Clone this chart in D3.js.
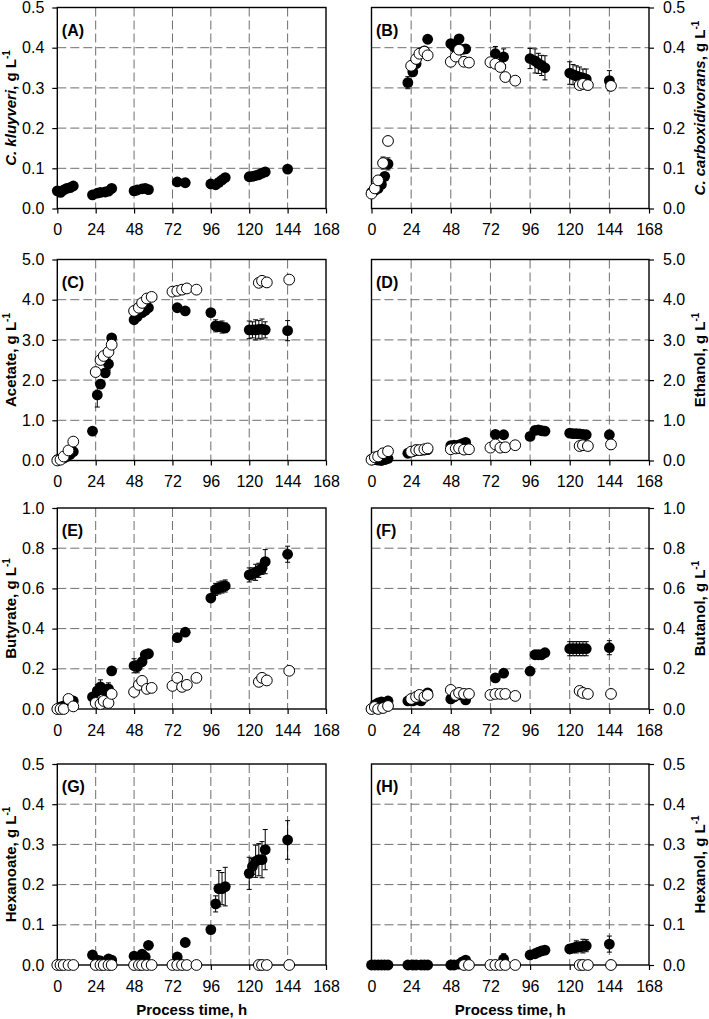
<!DOCTYPE html>
<html>
<head>
<meta charset="utf-8">
<script src="https://cdn.jsdelivr.net/npm/d3@7"></script>
<style>
  body { margin: 0; background: #fff; }
  text { font-family: "Liberation Sans", Arial, sans-serif; fill: #000; }
</style>
</head>
<body>
<svg id="chart" width="709" height="1019"></svg>
<script>
// sampling times, h
const timeFilled = [0, 2, 4, 6, 8, 10, 22, 25, 27, 30, 32, 34, 48, 50, 53, 55, 57, 75, 80,
  96, 99, 101, 103, 105, 120, 122, 124, 126, 128, 130, 144];
const timeOpen = [0, 2, 4, 7, 10, 24, 27, 29, 32, 34, 48, 51, 53, 56, 59, 72, 75, 78, 81, 87,
  126, 128, 131, 145];
const xTicks = [0, 24, 48, 72, 96, 120, 144, 168];

// (A) C. kluyveri
const kluyveriFilled = [0.044, 0.040, 0.046, 0.050, 0.052, 0.056, 0.034, 0.038, 0.040, 0.041, 0.043, 0.050,
  0.044, 0.046, 0.049, 0.050, 0.047, 0.066, 0.064, 0.061, 0.059, 0.065, 0.071, 0.077,
  0.079, 0.080, 0.082, 0.084, 0.088, 0.091, 0.098];

// (B) C. carboxidivorans
const carboxFilled = [0.040, 0.045, 0.050, 0.060, 0.080, 0.111, 0.313, 0.340, 0.360, 0.388, 0.392, 0.421,
  0.410, 0.402, 0.422, 0.396, 0.397, 0.385, 0.377, 0.373, 0.367, 0.361, 0.356, 0.350,
  0.337, 0.333, 0.330, 0.327, 0.325, 0.322, 0.318];
const carboxFilledErr = [0, 0, 0, 0, 0, 0.015, 0.015, 0.008, 0.005, 0.005, 0.005, 0.005,
  0.008, 0.008, 0.005, 0.008, 0.005, 0.018, 0.02, 0.025, 0.03, 0.025, 0.025, 0.03,
  0.028, 0.025, 0.025, 0.025, 0.022, 0.025, 0.025];
const carboxOpen = [0.037, 0.050, 0.070, 0.113, 0.168, 0.355, 0.372, 0.385, 0.390, 0.381,
  0.365, 0.378, 0.395, 0.365, 0.363, 0.364, 0.360, 0.352, 0.327, 0.318, 0.307, 0.310, 0.307, 0.305];
const carboxOpenErr = [0, 0, 0, 0.015, 0, 0, 0, 0, 0, 0, 0, 0, 0, 0, 0, 0, 0, 0, 0, 0,
  0.01, 0.012, 0.012, 0.01];

// (C) acetate
const acetateFilled = [0.02, 0.03, 0.06, 0.10, 0.15, 0.22, 0.73, 1.63, 1.90, 2.18, 2.40, 3.05,
  3.50, 3.58, 3.68, 3.73, 3.80, 3.80, 3.72, 3.68, 3.35, 3.33, 3.32, 3.30,
  3.25, 3.25, 3.25, 3.26, 3.27, 3.25, 3.23];
const acetateFilledErr = [0, 0, 0, 0, 0, 0.05, 0.03, 0.3, 0.1, 0.1, 0.15, 0.05,
  0.05, 0.05, 0.05, 0.05, 0.05, 0.05, 0.05, 0.05, 0.15, 0.12, 0.15, 0.12,
  0.22, 0.2, 0.25, 0.22, 0.25, 0.2, 0.25];
const acetateOpen = [0.0, 0.02, 0.10, 0.25, 0.47, 2.20, 2.50, 2.60, 2.70, 2.88,
  3.72, 3.80, 3.92, 4.03, 4.07, 4.20, 4.22, 4.25, 4.28, 4.25, 4.42, 4.47, 4.43, 4.50];

// (D) ethanol
const ethanolFilled = [0.03, 0.02, 0.01, 0.00, 0.02, 0.05, 0.18, 0.22, 0.25, 0.25, 0.26, 0.27,
  0.37, 0.38, 0.39, 0.42, 0.45, 0.65, 0.64, 0.60, 0.75, 0.76, 0.74, 0.73,
  0.68, 0.67, 0.67, 0.66, 0.65, 0.64, 0.64];
const ethanolFilledErr = [0, 0, 0, 0, 0, 0, 0, 0, 0, 0, 0, 0, 0, 0, 0, 0, 0, 0, 0, 0, 0, 0, 0, 0,
  0.03, 0.03, 0.03, 0.03, 0.03, 0.03, 0.03];
const ethanolOpen = [0.02, 0.08, 0.10, 0.18, 0.23, 0.22, 0.26, 0.26, 0.28, 0.30,
  0.28, 0.30, 0.31, 0.27, 0.28, 0.32, 0.40, 0.32, 0.33, 0.38, 0.36, 0.38, 0.36, 0.40];

// (E) butyrate
const butyrateFilled = [0.00, 0.01, 0.015, 0.02, 0.03, 0.04, 0.06, 0.09, 0.11, 0.09, 0.10, 0.19,
  0.215, 0.21, 0.235, 0.27, 0.275, 0.355, 0.382, 0.552, 0.595, 0.602, 0.607, 0.612,
  0.667, 0.672, 0.680, 0.690, 0.700, 0.733, 0.77];
const butyrateFilledErr = [0, 0, 0, 0, 0, 0, 0.01, 0.03, 0.035, 0.03, 0.03, 0.01,
  0.035, 0.03, 0.02, 0.01, 0.01, 0.01, 0.01, 0.01, 0.03, 0.03, 0.03, 0.03,
  0.035, 0.03, 0.04, 0.035, 0.03, 0.06, 0.04];
const butyrateOpen = [0.0, 0.0, 0.0, 0.05, 0.013, 0.03, 0.025, 0.04, 0.03, 0.075,
  0.085, 0.12, 0.14, 0.10, 0.105, 0.115, 0.155, 0.11, 0.12, 0.155, 0.135, 0.155, 0.142, 0.19];

// (F) butanol
const butanolFilled = [0.0, 0.02, 0.03, 0.035, 0.03, 0.04, 0.04, 0.04, 0.045, 0.04, 0.06, 0.08,
  0.05, 0.06, 0.07, 0.07, 0.045, 0.155, 0.178, 0.188, 0.27, 0.27, 0.27, 0.28,
  0.30, 0.30, 0.30, 0.30, 0.30, 0.30, 0.305];
const butanolFilledErr = [0, 0, 0, 0, 0, 0, 0, 0, 0, 0, 0, 0, 0, 0, 0, 0, 0, 0.01, 0.01,
  0.005, 0.015, 0.015, 0.015, 0.015, 0.035, 0.035, 0.035, 0.035, 0.035, 0.035, 0.035];
const butanolOpen = [0.0, 0.01, 0.0, 0.005, 0.015, 0.05, 0.06, 0.07, 0.06, 0.07,
  0.095, 0.07, 0.08, 0.075, 0.075, 0.07, 0.075, 0.075, 0.075, 0.065, 0.09, 0.08, 0.075, 0.075];

// (G) hexanoate
const hexanoateFilled = [null, null, null, null, null, null, 0.025, 0.012, 0.01, 0.008, 0.015, 0.012,
  0.022, 0.018, 0.027, 0.02, 0.049, 0.02, 0.056, 0.088, 0.152, 0.19, 0.19, 0.195,
  0.228, 0.245, 0.258, 0.262, 0.262, 0.287, 0.311];
const hexanoateFilledErr = [0, 0, 0, 0, 0, 0, 0, 0, 0, 0, 0, 0, 0, 0, 0, 0, 0, 0, 0,
  0.005, 0.02, 0.045, 0.04, 0.048, 0.04, 0.02, 0.04, 0.04, 0.045, 0.05, 0.048];
const hexanoateOpen = [0, 0, 0, 0, 0, 0, 0, 0, 0, 0, 0, 0, 0, 0, 0, 0, 0, 0, 0, 0, 0, 0, 0, 0];

// (H) hexanol
const hexanolFilled = [0, 0, 0, 0, 0, 0, 0, 0, 0, 0, 0, 0, 0, 0, 0.002, 0.008, 0.012, 0.0, 0.015,
  0.025, 0.028, 0.032, 0.035, 0.037, 0.04, 0.042, 0.045, 0.045, 0.047, 0.048, 0.052];
const hexanolFilledErr = [0, 0, 0, 0, 0, 0, 0, 0, 0, 0, 0, 0, 0, 0, 0, 0, 0, 0, 0.013,
  0, 0, 0, 0, 0, 0.01, 0.01, 0.015, 0.012, 0.017, 0.015, 0.02];
const hexanolOpen = [null, null, null, null, null, null, null, null, null, null,
  null, null, null, 0, 0, 0, 0, 0, 0, 0, 0, 0, 0, 0];

const panelLetters = ["(A)", "(B)", "(C)", "(D)", "(E)", "(F)", "(G)", "(H)"];
const yMaxes = [0.5, 0.5, 5, 5, 1, 1, 0.5, 0.5];
const yNames = [
  [["C. kluyveri", true], [", g L", false]],
  [["C. carboxidivorans", true], [", g L", false]],
  [["Acetate, g L", false]],
  [["Ethanol, g L", false]],
  [["Butyrate, g L", false]],
  [["Butanol, g L", false]],
  [["Hexanoate, g L", false]],
  [["Hexanol, g L", false]]
];
const xTitle = "Process time, h";

const panels = [
  { filled: kluyveriFilled, filledErr: [], open: [], openErr: [] },
  { filled: carboxFilled, filledErr: carboxFilledErr, open: carboxOpen, openErr: carboxOpenErr },
  { filled: acetateFilled, filledErr: acetateFilledErr, open: acetateOpen, openErr: [] },
  { filled: ethanolFilled, filledErr: ethanolFilledErr, open: ethanolOpen, openErr: [] },
  { filled: butyrateFilled, filledErr: butyrateFilledErr, open: butyrateOpen, openErr: [] },
  { filled: butanolFilled, filledErr: butanolFilledErr, open: butanolOpen, openErr: [] },
  { filled: hexanoateFilled, filledErr: hexanoateFilledErr, open: hexanoateOpen, openErr: [] },
  { filled: hexanolFilled, filledErr: hexanolFilledErr, open: hexanolOpen, openErr: [] }
];

const colX = [[57.3, 326], [371.5, 649]];
const rowTop = [7.5, 259.5, 508, 764];
const plotH = 201;
const radius = 5.4;

const svg = d3.select("#chart");

function toPoints(times, values, errs) {
  return times.map((t, i) => ({ t, v: values[i], e: errs[i] || 0 }))
    .filter(d => d.v !== null && d.v !== undefined);
}

panels.forEach((p, i) => {
  const col = i % 2;
  const row = Math.floor(i / 2);
  const [x0, x1] = colX[col];
  const w = x1 - x0;
  const top = rowTop[row];
  const yMax = yMaxes[i];

  const g = svg.append("g").attr("transform", `translate(${x0},${top})`);
  const x = d3.scaleLinear().domain([0, 168]).range([0, w]);
  const y = d3.scaleLinear().domain([0, yMax]).range([plotH, 0]);
  const yTicks = d3.range(0, 6).map(k => yMax * k / 5);

  // dashed grid
  g.append("g").selectAll("line")
    .data(xTicks.slice(1, -1))
    .join("line")
    .attr("x1", d => x(d)).attr("x2", d => x(d))
    .attr("y1", 0).attr("y2", plotH)
    .attr("stroke", "#6e6e6e").attr("stroke-width", 1)
    .attr("stroke-dasharray", "9,4");
  g.append("g").selectAll("line")
    .data(yTicks.slice(1, -1))
    .join("line")
    .attr("x1", 0).attr("x2", w)
    .attr("y1", d => y(d)).attr("y2", d => y(d))
    .attr("stroke", "#6e6e6e").attr("stroke-width", 1)
    .attr("stroke-dasharray", "9,4");

  g.append("rect")
    .attr("width", w).attr("height", plotH)
    .attr("fill", "none").attr("stroke", "#000").attr("stroke-width", 1.4);

  const xAxis = d3.axisBottom(x)
    .tickValues(xTicks)
    .tickSize(5)
    .tickPadding(10.5)
    .tickFormat(d3.format("d"));
  const yAxis = (col === 0 ? d3.axisLeft(y) : d3.axisRight(y))
    .tickValues(yTicks)
    .tickSize(5)
    .tickPadding(col === 0 ? 8 : 9)
    .tickFormat(d3.format(".1f"));

  const gx = g.append("g").attr("transform", `translate(0,${plotH})`).call(xAxis);
  const gy = g.append("g").attr("transform", col === 0 ? null : `translate(${w},0)`).call(yAxis);
  [gx, gy].forEach(a => {
    a.select(".domain").remove();
    a.attr("font-family", null).attr("font-size", 16);
    a.selectAll(".tick line").attr("stroke", "#000").attr("stroke-width", 1.2);
  });

  // error bars, then markers
  const filledPts = toPoints(timeFilled, p.filled, p.filledErr);
  const openPts = toPoints(timeOpen, p.open, p.openErr);

  const drawErr = pts => {
    const eg = g.append("g").attr("stroke", "#000").attr("stroke-width", 1);
    pts.filter(d => d.e > 0).forEach(d => {
      const cx = x(d.t);
      const yl = y(Math.max(0, d.v - d.e));
      const yh = y(d.v + d.e);
      eg.append("line").attr("x1", cx).attr("x2", cx).attr("y1", yl).attr("y2", yh);
      eg.append("line").attr("x1", cx - 2.5).attr("x2", cx + 2.5).attr("y1", yl).attr("y2", yl);
      eg.append("line").attr("x1", cx - 2.5).attr("x2", cx + 2.5).attr("y1", yh).attr("y2", yh);
    });
  };
  drawErr(filledPts);
  drawErr(openPts);

  g.append("g").selectAll("circle")
    .data(filledPts)
    .join("circle")
    .attr("cx", d => x(d.t)).attr("cy", d => y(d.v))
    .attr("r", radius)
    .attr("fill", "#000");

  g.append("g").selectAll("circle")
    .data(openPts)
    .join("circle")
    .attr("cx", d => x(d.t)).attr("cy", d => y(d.v))
    .attr("r", radius)
    .attr("fill", "#fff").attr("stroke", "#000").attr("stroke-width", 1);

  g.append("text")
    .attr("x", 4.5).attr("y", 28)
    .attr("font-size", 16).attr("font-weight", "bold")
    .text(panelLetters[i]);

  // y title
  const ty = top + plotH / 2;
  const tx = col === 0 ? 15.5 : 705;
  const title = svg.append("text")
    .attr("transform", `translate(${tx},${ty}) rotate(-90)`)
    .attr("text-anchor", "middle")
    .attr("font-size", 15).attr("font-weight", "bold");
  yNames[i].forEach(([s, it]) => {
    title.append("tspan").attr("font-style", it ? "italic" : null).text(s);
  });
  title.append("tspan").attr("font-size", 10).attr("dy", -6).text("-1");

  if (row === 3) {
    svg.append("text")
      .attr("x", x0 + w / 2).attr("y", 1015)
      .attr("text-anchor", "middle")
      .attr("font-size", 15).attr("font-weight", "bold")
      .text(xTitle);
  }
});
</script>
</body>
</html>
